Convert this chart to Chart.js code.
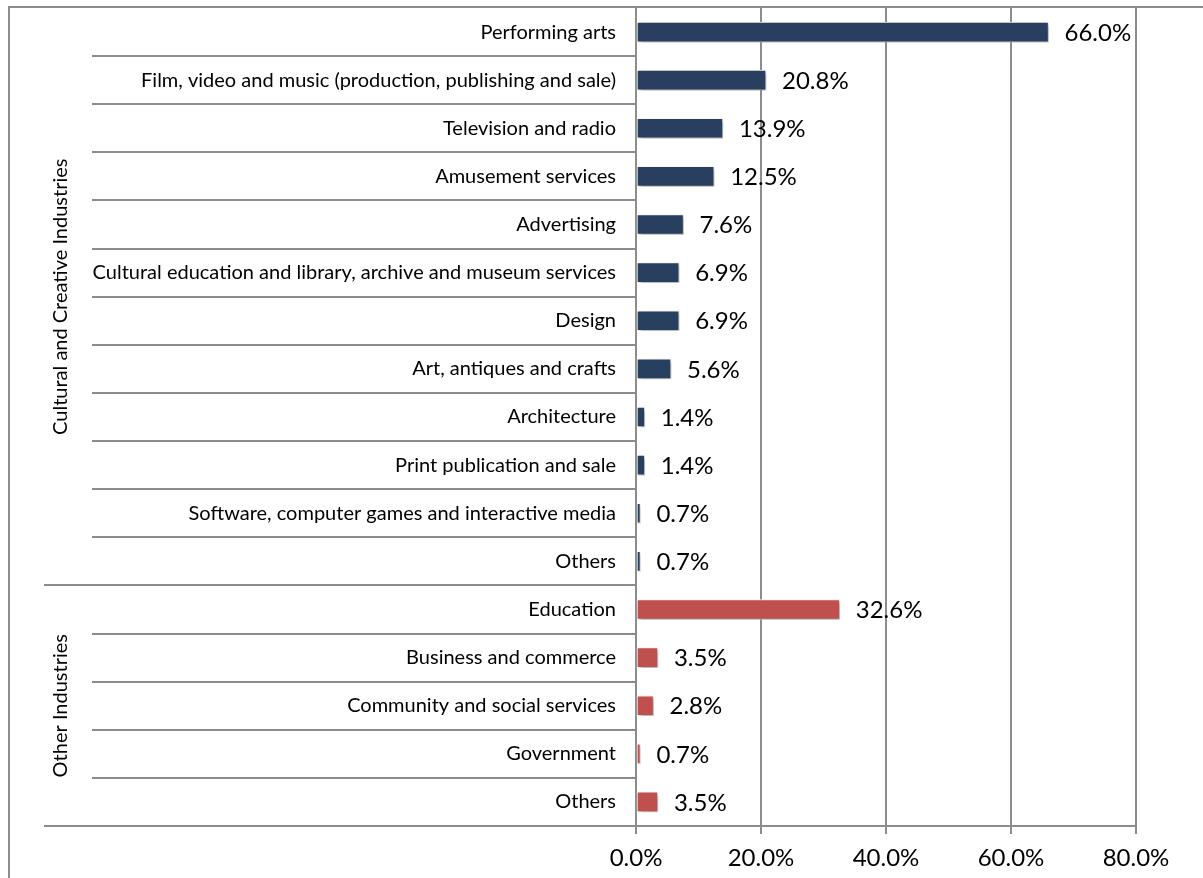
<!DOCTYPE html>
<html>
<head>
<meta charset="utf-8">
<script src="https://cdn.jsdelivr.net/npm/chart.js@4"></script>
<style>
  html, body { margin: 0; padding: 0; background: #fff; }
  #wrap { width: 1203px; height: 878px; position: relative; }
</style>
</head>
<body>
<div id="wrap"><canvas id="industryChart" width="1203" height="878"></canvas></div>
<script>
const categories = [
    "Performing arts",
    "Film, video and music (production, publishing and sale)",
    "Television and radio",
    "Amusement services",
    "Advertising",
    "Cultural education and library, archive and museum services",
    "Design",
    "Art, antiques and crafts",
    "Architecture",
    "Print publication and sale",
    "Software, computer games and interactive media",
    "Others",
    "Education",
    "Business and commerce",
    "Community and social services",
    "Government",
    "Others"
];
const values = [66.0, 20.8, 13.9, 12.5, 7.6, 6.9, 6.9, 5.6, 1.4, 1.4, 0.7, 0.7, 32.6, 3.5, 2.8, 0.7, 3.5];
const groupNames = ["Cultural and Creative Industries", "Other Industries"];
const groupSizes = [12, 5];
const xTicks = [0, 20, 40, 60, 80];

const groupColors = ["#283F5F", "#C0504D"];
const lineColor = "#8c8c8c";
const labelFont = "Lato";

// which group each bar belongs to
const barGroup = [];
groupSizes.forEach((n, g) => { for (let i = 0; i < n; i++) barGroup.push(g); });

// shadow under the bars, like the office chart
const barShadow = {
    id: "barShadow",
    beforeDatasetDraw(chart) {
        const c = chart.ctx;
        c.save();
        c.shadowColor = "rgba(0,0,0,0.35)";
        c.shadowBlur = 4;
        c.shadowOffsetX = 2;
        c.shadowOffsetY = 2;
    },
    afterDatasetDraw(chart) {
        chart.ctx.restore();
    }
};

// value labels right of each bar
const valueLabels = {
    id: "valueLabels",
    afterDatasetsDraw(chart) {
        const c = chart.ctx;
        const meta = chart.getDatasetMeta(0);
        c.save();
        c.font = "24px " + labelFont;
        c.fillStyle = "#000";
        c.textAlign = "left";
        c.textBaseline = "middle";
        meta.data.forEach((bar, i) => {
            c.fillText(values[i].toFixed(1) + "%", bar.x + 16, bar.y + 1);
        });
        c.restore();
    }
};

// category separators, group labels and outer frame
const groupAxis = {
    id: "groupAxis",
    afterDraw(chart) {
        const c = chart.ctx;
        const y = chart.scales.y;
        const half = (y.getPixelForValue(1) - y.getPixelForValue(0)) / 2;
        const right = y.right;
        c.save();
        c.strokeStyle = lineColor;
        c.lineWidth = 2;
        // frame
        c.beginPath();
        c.moveTo(9, chart.height);
        c.lineTo(9, 7);
        c.lineTo(chart.width, 7);
        c.stroke();

        const groupEnds = [];
        let acc = 0;
        groupSizes.forEach(n => { acc += n; groupEnds.push(acc); });
        for (let i = 1; i <= categories.length; i++) {
            const py = Math.round(y.getPixelForValue(i - 1) + half);
            const left = groupEnds.includes(i) ? 44 : 92;
            c.beginPath();
            c.moveTo(left, py);
            c.lineTo(right, py);
            c.stroke();
        }

        // rotated group titles
        c.fillStyle = "#000";
        c.font = "20px " + labelFont;
        c.textAlign = "center";
        c.textBaseline = "middle";
        let start = 0;
        groupSizes.forEach((n, g) => {
            const top = y.getPixelForValue(start) - half;
            const bottom = y.getPixelForValue(start + n - 1) + half;
            c.save();
            c.translate(61, (top + bottom) / 2);
            c.rotate(-Math.PI / 2);
            c.fillText(groupNames[g], 0, 0);
            c.restore();
            start += n;
        });
        c.restore();
    }
};

const ctx = document.getElementById("industryChart").getContext("2d");
const industryChart = new Chart(ctx, {
    type: "bar",
    data: {
        labels: categories,
        datasets: [{
            data: values,
            backgroundColor: barGroup.map(g => groupColors[g]),
            borderColor: "#ffffff",
            borderWidth: 1,
            barThickness: 20,
            borderSkipped: false
        }]
    },
    options: {
        indexAxis: "y",
        responsive: false,
        animation: false,
        layout: { padding: { top: 8, right: 67, bottom: 0, left: 0 } },
        plugins: {
            legend: { display: false },
            tooltip: { enabled: false }
        },
        scales: {
            x: {
                min: 0,
                max: 80,
                afterBuildTicks: s => { s.ticks = xTicks.map(v => ({ value: v })); },
                afterFit: s => { s.height = 52; },
                ticks: {
                    font: { family: labelFont, size: 24 },
                    color: "#000",
                    padding: 10,
                    callback: v => v.toFixed(1) + "%"
                },
                grid: { color: lineColor, lineWidth: 2, tickLength: 8 },
                border: { color: lineColor, width: 2 }
            },
            y: {
                afterFit: s => {
                    s.width = 636;
                    s.paddingTop = 0;
                    s.paddingBottom = 0;
                },
                ticks: {
                    font: { family: labelFont, size: 20 },
                    color: "#000",
                    padding: 12,
                    autoSkip: false
                },
                grid: { display: false },
                border: { color: lineColor, width: 2 }
            }
        }
    },
    plugins: [barShadow, valueLabels, groupAxis]
});
</script>
</body>
</html>
